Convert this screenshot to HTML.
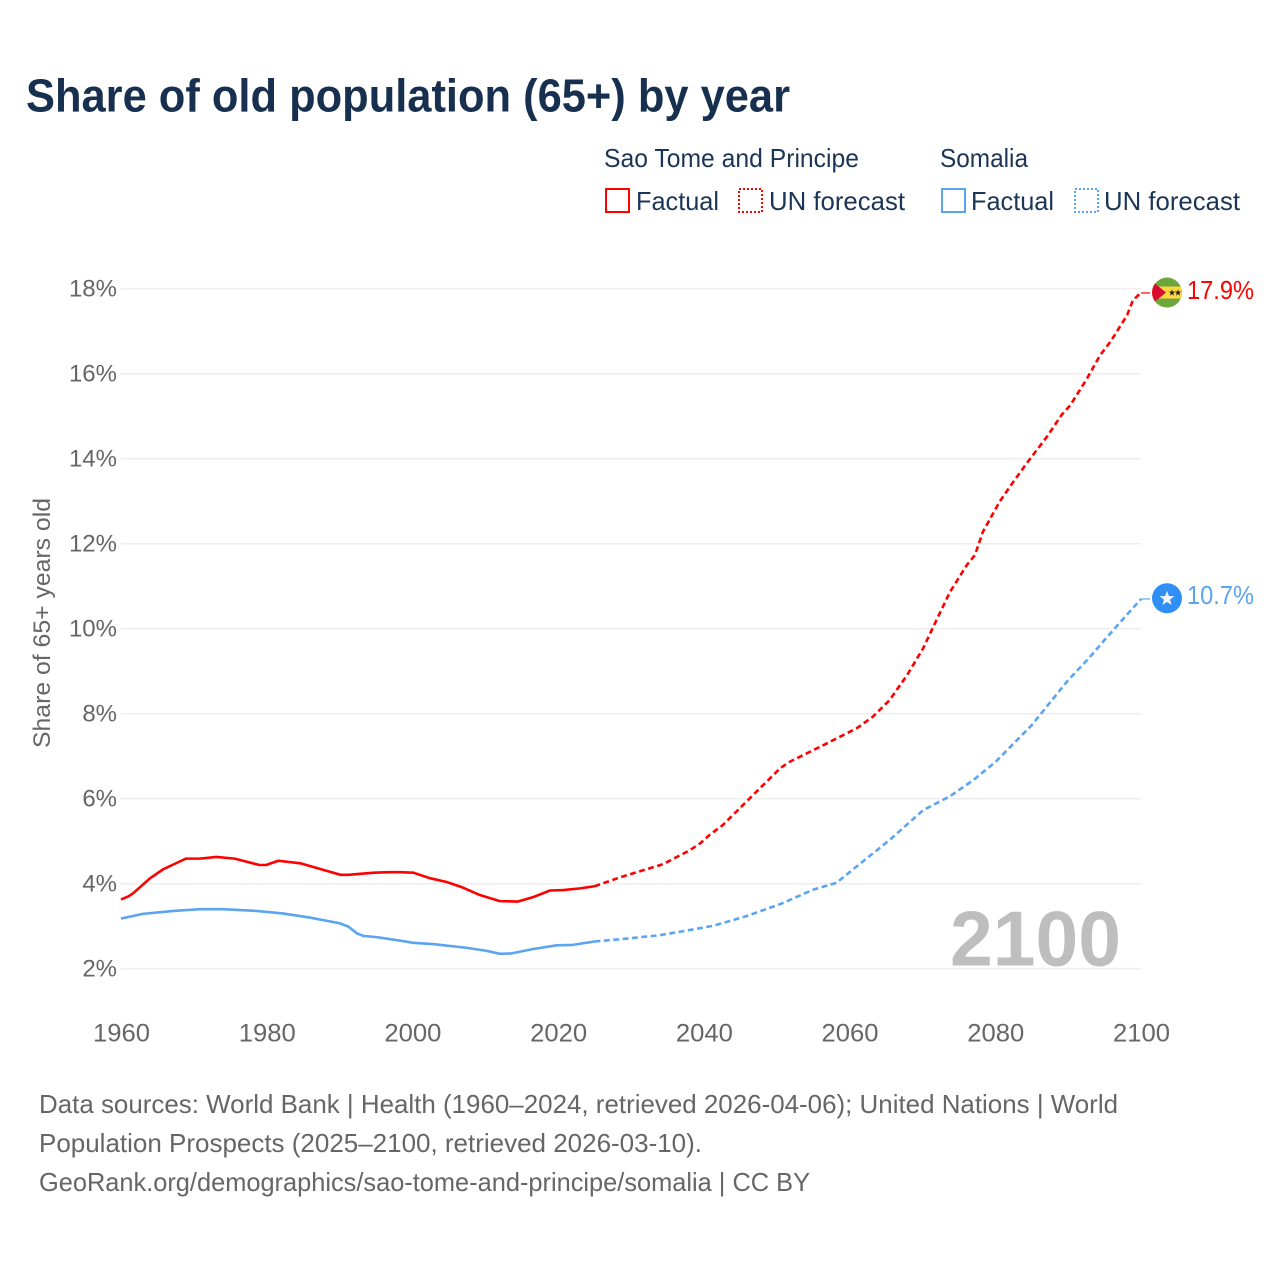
<!DOCTYPE html>
<html lang="en">
<head>
<meta charset="utf-8">
<title>Share of old population (65+) by year</title>
<style>
html,body{margin:0;padding:0;background:#fff;}
svg{display:block;font-family:"Liberation Sans",sans-serif;}
</style>
</head>
<body>
<svg id="chart" xmlns="http://www.w3.org/2000/svg" width="1280" height="1280" viewBox="0 0 1280 1280">
  <rect x="0" y="0" width="1280" height="1280" fill="#ffffff"/>
  <text x="26" y="111.5" font-size="46" font-weight="700" fill="#18304f" textLength="764" lengthAdjust="spacingAndGlyphs">Share of old population (65+) by year</text>

  <g font-size="26" fill="#1b3556">
    <text x="604" y="167" textLength="255" lengthAdjust="spacingAndGlyphs">Sao Tome and Principe</text>
    <text x="940" y="167" textLength="88" lengthAdjust="spacingAndGlyphs">Somalia</text>
    <rect x="606" y="189" width="23" height="23" fill="none" stroke="#ff0000" stroke-width="2"/>
    <text x="636" y="210" textLength="83" lengthAdjust="spacingAndGlyphs">Factual</text>
    <rect x="739" y="189" width="23" height="23" fill="none" stroke="#ff0000" stroke-width="2" stroke-dasharray="2 2"/>
    <text x="769" y="210" textLength="136" lengthAdjust="spacingAndGlyphs">UN forecast</text>
    <rect x="942" y="189" width="23" height="23" fill="none" stroke="#5ba4ef" stroke-width="2"/>
    <text x="971" y="210" textLength="83" lengthAdjust="spacingAndGlyphs">Factual</text>
    <rect x="1075" y="189" width="23" height="23" fill="none" stroke="#5ba4ef" stroke-width="2" stroke-dasharray="2 2"/>
    <text x="1104" y="210" textLength="136" lengthAdjust="spacingAndGlyphs">UN forecast</text>
  </g>

  <g id="grid"></g>
  <g id="yticks"></g>
  <g id="xticks"></g>
  <text transform="translate(50,748) rotate(-90)" font-size="24" fill="#666666" textLength="250" lengthAdjust="spacingAndGlyphs">Share of 65+ years old</text>
  <text x="950" y="965.5" font-size="78" font-weight="700" fill="#bebebe" textLength="171" lengthAdjust="spacingAndGlyphs">2100</text>
  <g id="series"></g>

  <defs>
    <clipPath id="flag-clip"><circle cx="1167" cy="292" r="15"/></clipPath>
  </defs>
  <g id="flag-stp">
    <g clip-path="url(#flag-clip)">
      <rect x="1150" y="276" width="34" height="32" fill="#6fa53f"/>
      <rect x="1150" y="286" width="34" height="12" fill="#ffd83d"/>
      <polygon points="1150,279 1166,292 1150,305" fill="#d90b30"/>
      <polygon points="1172,288.6 1172.8,291.1 1175.4,291.1 1173.3,292.6 1174.1,295.1 1172,293.6 1169.9,295.1 1170.7,292.6 1168.6,291.1 1171.2,291.1" fill="#222"/>
      <polygon points="1178,288.6 1178.8,291.1 1181.4,291.1 1179.3,292.6 1180.1,295.1 1178,293.6 1175.9,295.1 1176.7,292.6 1174.6,291.1 1177.2,291.1" fill="#222"/>
    </g>
  </g>
  <g id="flag-som">
    <circle cx="1167" cy="598" r="15" fill="#2f8ff5"/>
    <polygon points="1167,590.5 1168.9,595.8 1174.5,596 1170,599.4 1171.6,604.8 1167,601.6 1162.4,604.8 1164,599.4 1159.5,596 1165.1,595.8" fill="#f2f5f8"/>
  </g>
  <g id="endlabels"></g>

  <g font-size="26" fill="#666666">
    <text x="39" y="1113" textLength="1079" lengthAdjust="spacingAndGlyphs">Data sources: World Bank | Health (1960–2024, retrieved 2026-04-06); United Nations | World</text>
    <text x="39" y="1152" textLength="663" lengthAdjust="spacingAndGlyphs">Population Prospects (2025–2100, retrieved 2026-03-10).</text>
    <text x="39" y="1191" textLength="771" lengthAdjust="spacingAndGlyphs">GeoRank.org/demographics/sao-tome-and-principe/somalia | CC BY</text>
  </g>
</svg>
<script>
const yTickValues = [2, 4, 6, 8, 10, 12, 14, 16, 18];
const xTickValues = [1960, 1980, 2000, 2020, 2040, 2060, 2080, 2100];

const stpFactualYears = [1960, 1961, 1961.7, 1964, 1965.8, 1968.9, 1970.8, 1973.1, 1975.6, 1979, 1979.9, 1981.6, 1984.6, 1990.1, 1991.2, 1994.7, 1997, 1998.3, 2000.1, 2002.4, 2004.7, 2006.9, 2009.3, 2012, 2014.5, 2016.5, 2018.9, 2020.7, 2023, 2025];
const stpFactualValues = [3.63, 3.70, 3.78, 4.13, 4.34, 4.59, 4.59, 4.63, 4.59, 4.44, 4.44, 4.54, 4.48, 4.21, 4.21, 4.26, 4.27, 4.27, 4.26, 4.13, 4.04, 3.91, 3.73, 3.59, 3.58, 3.68, 3.84, 3.85, 3.89, 3.94];
const stpForecastYears = [2025, 2028.5, 2034.4, 2038.1, 2039.5, 2040.8, 2042.6, 2046.3, 2050.5, 2051.8, 2056.4, 2061, 2063.2, 2065.5, 2067.9, 2070.1, 2071.5, 2073.8, 2076.1, 2077.2, 2078.3, 2080.6, 2082, 2084.3, 2087.1, 2089.1, 2090.3, 2092.6, 2094.4, 2095.8, 2098.1, 2098.9, 2099.9, 2100];
const stpForecastValues = [3.94, 4.15, 4.46, 4.79, 4.95, 5.15, 5.38, 6.01, 6.72, 6.87, 7.26, 7.66, 7.93, 8.32, 8.91, 9.54, 10.05, 10.87, 11.5, 11.73, 12.28, 12.99, 13.34, 13.89, 14.52, 15.03, 15.26, 15.89, 16.44, 16.75, 17.38, 17.73, 17.89, 17.9];

const somFactualYears = [1960, 1963, 1967.2, 1970.8, 1974, 1978.6, 1982.2, 1986, 1990, 1991.2, 1992.4, 1993.3, 1995.2, 1998.3, 2000.1, 2002.8, 2007.5, 2010.2, 2012, 2013.6, 2016.5, 2019.8, 2022, 2025];
const somFactualValues = [3.18, 3.29, 3.36, 3.40, 3.40, 3.36, 3.30, 3.20, 3.07, 2.99, 2.83, 2.77, 2.74, 2.66, 2.61, 2.58, 2.49, 2.42, 2.35, 2.36, 2.46, 2.55, 2.56, 2.64];
const somForecastYears = [2025, 2029.5, 2034, 2036.7, 2041.3, 2045.9, 2050.5, 2055, 2056.4, 2058.2, 2061.8, 2065.5, 2070.1, 2073.8, 2077, 2080, 2085, 2090, 2092.6, 2096.2, 2099.9, 2100];
const somForecastValues = [2.64, 2.71, 2.79, 2.87, 3.01, 3.24, 3.52, 3.86, 3.93, 4.02, 4.52, 5.03, 5.73, 6.06, 6.44, 6.86, 7.73, 8.79, 9.26, 9.97, 10.68, 10.7];

const NS = 'http://www.w3.org/2000/svg';
function xScale(year) { return 121 + (year - 1960) * (1020 / 140); }
function yScale(value) { return 968.7 - (value - 2) * 42.5; }
function linePath(years, values) {
  return years.map(function (yr, i) {
    return (i ? 'L' : 'M') + xScale(yr).toFixed(2) + ' ' + yScale(values[i]).toFixed(2);
  }).join(' ');
}
function make(tag, attrs, parent) {
  const el = document.createElementNS(NS, tag);
  Object.keys(attrs).forEach(function (k) { el.setAttribute(k, attrs[k]); });
  parent.appendChild(el);
  return el;
}

const gridGroup = document.getElementById('grid');
const yTickGroup = document.getElementById('yticks');
yTickValues.forEach(function (v) {
  const line = make('line', { x1: 120.5, x2: 1141, y1: yScale(v), y2: yScale(v), stroke: '#eeeeee', 'stroke-width': 1.6 }, gridGroup);
  
  
  const label = make('text', { x: 117, y: yScale(v) + 7.8, 'text-anchor': 'end', 'font-size': 24, fill: '#666666' }, yTickGroup);
  label.textContent = v + '%';
  
  
});

const xTickGroup = document.getElementById('xticks');
xTickValues.forEach(function (yr) {
  const label = make('text', { x: xScale(yr) - 28, y: 1041.5, 'font-size': 25, fill: '#666666', textLength: 57, lengthAdjust: 'spacingAndGlyphs' }, xTickGroup);
  label.textContent = String(yr);
  
  
});

const seriesGroup = document.getElementById('series');
const stpFactualLine = make('path', { d: linePath(stpFactualYears, stpFactualValues), fill: 'none', stroke: '#ff0000', 'stroke-width': 2.6, 'stroke-linejoin': 'round' }, seriesGroup);


const stpForecastLine = make('path', { d: linePath(stpForecastYears, stpForecastValues), fill: 'none', stroke: '#ff0000', 'stroke-width': 2.6, 'stroke-dasharray': '5.8 3.6' }, seriesGroup);


const somFactualLine = make('path', { d: linePath(somFactualYears, somFactualValues), fill: 'none', stroke: '#5ba4ef', 'stroke-width': 2.6, 'stroke-linejoin': 'round' }, seriesGroup);


const somForecastLine = make('path', { d: linePath(somForecastYears, somForecastValues), fill: 'none', stroke: '#5ba4ef', 'stroke-width': 2.6, 'stroke-dasharray': '5.8 3.6' }, seriesGroup);



const endGroup = document.getElementById('endlabels');
const stpLast = stpForecastValues[stpForecastValues.length - 1];
const somLast = somForecastValues[somForecastValues.length - 1];
const stpConnector = make('line', { x1: 1141, x2: 1150, y1: yScale(stpLast), y2: yScale(stpLast), stroke: '#ff0000', 'stroke-width': 1.2 }, endGroup);


const somConnector = make('line', { x1: 1141, x2: 1150, y1: yScale(somLast), y2: yScale(somLast), stroke: '#5ba4ef', 'stroke-width': 1.2 }, endGroup);


const stpEndLabel = make('text', { x: 1187, y: yScale(stpLast) + 6, 'font-size': 26, fill: '#ff0000', textLength: 67, lengthAdjust: 'spacingAndGlyphs' }, endGroup);
stpEndLabel.textContent = stpLast.toFixed(1) + '%';


const somEndLabel = make('text', { x: 1187, y: yScale(somLast) + 5, 'font-size': 26, fill: '#5ba4ef', textLength: 67, lengthAdjust: 'spacingAndGlyphs' }, endGroup);
somEndLabel.textContent = somLast.toFixed(1) + '%';


document.getElementById('flag-stp').setAttribute('transform', 'translate(0,' + (yScale(stpLast) - 292.4).toFixed(2) + ')');
document.getElementById('flag-som').setAttribute('transform', 'translate(0,' + (yScale(somLast) - 598.7).toFixed(2) + ')');
</script>
</body>
</html>
